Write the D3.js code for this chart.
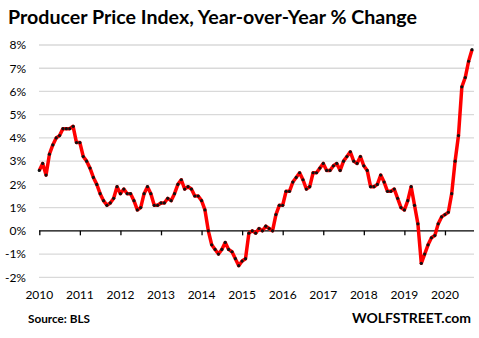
<!DOCTYPE html>
<html>
<head>
<meta charset="utf-8">
<script src="https://cdn.jsdelivr.net/npm/d3@7"></script>
<style>
  body { margin: 0; background: #fff; }
  text { font-family: Lato, "Open Sans", sans-serif; fill: #000; }
</style>
</head>
<body>
<div id="chart"></div>
<script>
const width = 479, height = 338;

// monthly y/y % change, first point = first tick ("2010")
const ppi = [
  2.6, 2.9, 2.4, 3.3, 3.7, 4.0, 4.1, 4.4, 4.4, 4.4, 4.5, 3.8,
  3.8, 3.2, 3.0, 2.7, 2.3, 2.0, 1.6, 1.3, 1.1, 1.2, 1.4, 1.9,
  1.6, 1.8, 1.6, 1.6, 1.3, 0.9, 1.0, 1.6, 1.9, 1.6, 1.1, 1.1,
  1.2, 1.2, 1.4, 1.3, 1.6, 2.0, 2.2, 1.8, 1.9, 1.8, 1.5, 1.5,
  1.3, 0.9, 0.0, -0.6, -0.8, -1.0, -0.8, -0.5, -0.8, -0.9, -1.2, -1.5,
  -1.3, -1.2, -0.1, 0.0, -0.1, 0.1, 0.0, 0.2, 0.1, 0.0, 0.7, 1.1,
  1.1, 1.7, 1.7, 2.1, 2.3, 2.5, 2.2, 1.8, 1.9, 2.5, 2.5, 2.7,
  2.9, 2.6, 2.6, 2.8, 2.9, 2.6, 3.0, 3.2, 3.4, 3.0, 2.9, 3.2,
  2.8, 2.6, 1.9, 1.9, 2.0, 2.4, 2.1, 1.7, 1.7, 1.8, 1.4, 1.0,
  0.9, 1.3, 1.9, 1.1, 0.3, -1.4, -1.0, -0.6, -0.3, -0.2, 0.3, 0.6,
  0.7, 0.8, 1.6, 3.0, 4.1, 6.2, 6.6, 7.3, 7.8
];
const years = ["2010", "2011", "2012", "2013", "2014", "2015", "2016", "2017", "2018", "2019", "2020"];
const yTicks = [-2, -1, 0, 1, 2, 3, 4, 5, 6, 7, 8];

const svg = d3.select("#chart").append("svg")
    .attr("width", width)
    .attr("height", height);

const x = d3.scaleLinear().domain([0, ppi.length - 1]).range([39.3, 472]);
const y = d3.scaleLinear().domain([-2, 8]).range([277.3, 45]);
const x0 = 39, x1 = 474;

// title
svg.append("text")
    .attr("x", 8).attr("y", 24)
    .attr("font-size", 18).attr("font-weight", "bold")
    .attr("textLength", 409).attr("lengthAdjust", "spacingAndGlyphs")
    .text("Producer Price Index, Year-over-Year % Change");

// gridlines (zero line drawn separately in black)
svg.selectAll("line.grid")
    .data(yTicks.filter(d => d !== 0))
    .enter().append("line")
    .attr("class", "grid")
    .attr("x1", x0).attr("x2", x1)
    .attr("y1", d => y(d)).attr("y2", d => y(d))
    .attr("stroke", "#d9d9d9")
    .attr("stroke-width", 1.3);

// y labels
svg.selectAll("text.ylab")
    .data(yTicks)
    .enter().append("text")
    .attr("class", "ylab")
    .attr("x", 26)
    .attr("y", d => y(d))
    .attr("dy", "0.36em")
    .attr("text-anchor", "end")
    .attr("font-size", 12)
    .text(d => d + "%");

// zero axis with year ticks
const xAxis = d3.axisBottom(x)
    .tickValues(years.map((d, i) => i * 12))
    .tickSize(4.5)
    .tickFormat("");
const ax = svg.append("g")
    .attr("transform", `translate(0,${y(0)})`)
    .call(xAxis);
ax.select(".domain").remove();
ax.selectAll(".tick line").attr("stroke", "#000").attr("stroke-width", 1.3);
ax.append("line")
    .attr("x1", x0).attr("x2", x1)
    .attr("stroke", "#000").attr("stroke-width", 1.3);

// year labels
svg.selectAll("text.xlab")
    .data(years)
    .enter().append("text")
    .attr("class", "xlab")
    .attr("x", (d, i) => x(i * 12))
    .attr("y", 299)
    .attr("text-anchor", "middle")
    .attr("font-size", 12)
    .text(d => d);

// line
const line = d3.line()
    .x((d, i) => x(i))
    .y(d => y(d));

svg.append("path")
    .datum(ppi)
    .attr("d", line)
    .attr("fill", "none")
    .attr("stroke", "#ff0000")
    .attr("stroke-width", 3.5)
    .attr("stroke-linejoin", "round");

svg.selectAll("circle.pt")
    .data(ppi)
    .enter().append("circle")
    .attr("class", "pt")
    .attr("cx", (d, i) => x(i))
    .attr("cy", d => y(d))
    .attr("r", 1.6)
    .attr("fill", "#111");

// footer
svg.append("text")
    .attr("x", 28).attr("y", 323)
    .attr("font-size", 12).attr("font-weight", "bold")
    .attr("textLength", 62).attr("lengthAdjust", "spacingAndGlyphs")
    .text("Source: BLS");

svg.append("text")
    .attr("x", 352).attr("y", 323)
    .attr("font-size", 14).attr("font-weight", "bold")
    .attr("textLength", 119).attr("lengthAdjust", "spacingAndGlyphs")
    .text("WOLFSTREET.com");
</script>
</body>
</html>
